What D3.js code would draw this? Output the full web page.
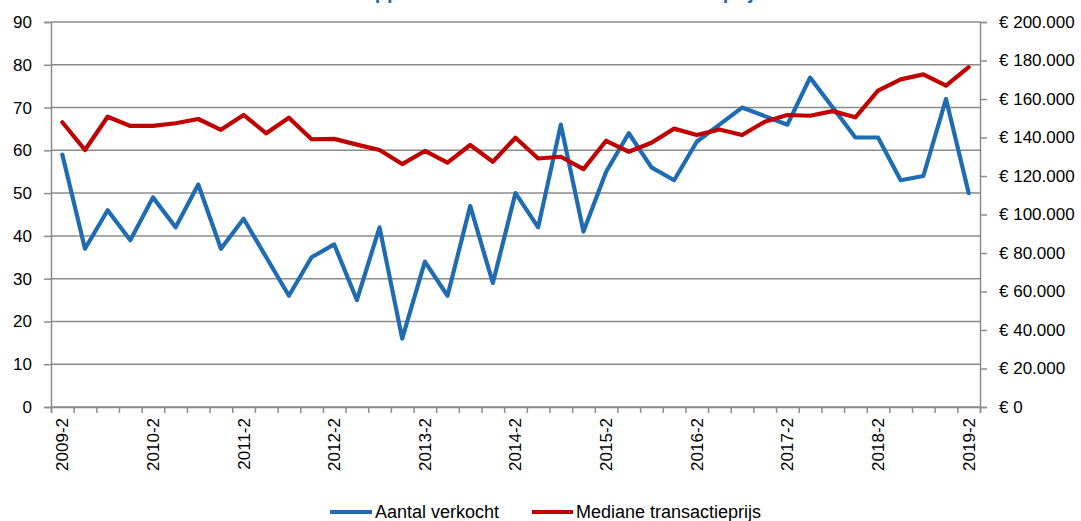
<!DOCTYPE html>
<html>
<head>
<meta charset="utf-8">
<script src="https://cdn.jsdelivr.net/npm/d3@7"></script>
<style>
  html, body { margin: 0; padding: 0; background: #ffffff; }
  svg { display: block; }
  text { font-family: "Liberation Sans", Arial, sans-serif; fill: #000; }
</style>
</head>
<body>
<svg id="chart" width="1081" height="521"></svg>
<script>
const categories = [
  "2009-2","2009-3","2009-4","2010-1","2010-2","2010-3","2010-4","2011-1","2011-2","2011-3","2011-4",
  "2012-1","2012-2","2012-3","2012-4","2013-1","2013-2","2013-3","2013-4","2014-1","2014-2","2014-3",
  "2014-4","2015-1","2015-2","2015-3","2015-4","2016-1","2016-2","2016-3","2016-4","2017-1","2017-2",
  "2017-3","2017-4","2018-1","2018-2","2018-3","2018-4","2019-1","2019-2"
];
const aantalVerkocht = [
  59, 37, 46, 39, 49, 42, 52, 37, 44, 35, 26,
  35, 38, 25, 42, 16, 34, 26, 47, 29, 50, 42,
  66, 41, 55, 64, 56, 53, 62, 66, 70, 68, 66,
  77, 70, 63, 63, 53, 54, 72, 50
];
const medianePrijs = [
  147900, 133500, 150800, 146000, 146000, 147400, 149600, 144000, 151700, 142200, 150300,
  139100, 139300, 136300, 133500, 126200, 133000, 126900, 136100, 127400, 139900, 129100,
  130000, 123600, 138300, 132600, 137300, 144600, 141300, 144200, 141300, 148200, 151700,
  151300, 153700, 150500, 164300, 170200, 172800, 166900, 176500
];
const leftTicks = [0, 10, 20, 30, 40, 50, 60, 70, 80, 90];
const rightTicks = [0, 20000, 40000, 60000, 80000, 100000, 120000, 140000, 160000, 180000, 200000];
const seriesNames = ["Aantal verkocht", "Mediane transactieprijs"];
const titleText = "Aantal verkochte appartementen en mediane transactieprijs";

const BLUE = "#1f6cb3", RED = "#c00000", GRID = "#8c8c8c";
const svg = d3.select("#chart");
const L = 51, R = 980, T = 22, B = 407;

const x = d3.scaleLinear().domain([0, categories.length]).range([L, R]);
const yL = d3.scaleLinear().domain([0, 90]).range([B, T]);
const yR = d3.scaleLinear().domain([0, 200000]).range([B, T]);

const nl = d3.formatLocale({decimal: ",", thousands: ".", grouping: [3], currency: ["€ ", ""]});
const eur = v => "€ " + nl.format(",.0f")(v);

// title (cut off at top)
svg.append("text").attr("x", 765).attr("y", -1).attr("text-anchor", "end")
  .attr("font-size", 20).attr("font-weight", "bold").style("fill", BLUE).text(titleText);

// gridlines
svg.append("g").selectAll("line").data(leftTicks).join("line")
  .attr("x1", L).attr("x2", R).attr("y1", d => yL(d)).attr("y2", d => yL(d))
  .attr("stroke", GRID).attr("stroke-width", 1.5);

// left axis
const gL = svg.append("g").attr("transform", `translate(${L},0)`)
  .call(d3.axisLeft(yL).tickValues(leftTicks).tickSize(7).tickPadding(12).tickFormat(d3.format("d")));
gL.select(".domain").attr("stroke", GRID).attr("stroke-width", 1.5);
gL.selectAll(".tick line").attr("stroke", GRID).attr("stroke-width", 1.5);
gL.selectAll(".tick text").attr("font-size", 17).attr("font-family", "Liberation Sans, Arial, sans-serif").style("fill", "#000");

// right axis
const gR = svg.append("g").attr("transform", `translate(${R},0)`)
  .call(d3.axisRight(yR).tickValues(rightTicks).tickSize(7).tickPadding(12).tickFormat(eur));
gR.select(".domain").attr("stroke", GRID).attr("stroke-width", 1.5);
gR.selectAll(".tick line").attr("stroke", GRID).attr("stroke-width", 1.5);
gR.selectAll(".tick text").attr("font-size", 17).attr("font-family", "Liberation Sans, Arial, sans-serif").style("fill", "#000");

// bottom axis with ticks at category boundaries
const gB = svg.append("g").attr("transform", `translate(0,${B})`)
  .call(d3.axisBottom(x).tickValues(d3.range(0, categories.length + 1)).tickSize(6).tickFormat(""));
gB.select(".domain").attr("stroke", GRID).attr("stroke-width", 1.5);
gB.selectAll(".tick line").attr("stroke", GRID).attr("stroke-width", 1.5);

// x labels every 4th category, rotated
const labelIdx = categories.map((c, i) => i).filter(i => i % 4 === 0);
svg.append("g").selectAll("text").data(labelIdx).join("text")
  .attr("transform", i => `translate(${x(i + 0.5)},${418}) rotate(-90)`)
  .attr("text-anchor", "end").attr("dy", "0.35em")
  .attr("font-size", 17).text(i => categories[i]);

// lines
const lineL = d3.line().x((d, i) => x(i + 0.5)).y(d => yL(d));
const lineR = d3.line().x((d, i) => x(i + 0.5)).y(d => yR(d));
svg.append("path").datum(aantalVerkocht).attr("d", lineL)
  .attr("fill", "none").attr("stroke", BLUE).attr("stroke-width", 4.2)
  .attr("stroke-linejoin", "round").attr("stroke-linecap", "round");
svg.append("path").datum(medianePrijs).attr("d", lineR)
  .attr("fill", "none").attr("stroke", RED).attr("stroke-width", 4.2)
  .attr("stroke-linejoin", "round").attr("stroke-linecap", "round");

// legend
const legend = [
  {name: seriesNames[0], color: BLUE, x0: 330, x1: 372, tx: 375},
  {name: seriesNames[1], color: RED, x0: 532, x1: 573, tx: 576}
];
const lg = svg.append("g").selectAll("g").data(legend).join("g");
lg.append("line").attr("x1", d => d.x0).attr("x2", d => d.x1).attr("y1", 512).attr("y2", 512)
  .attr("stroke", d => d.color).attr("stroke-width", 4.2);
lg.append("text").attr("x", d => d.tx).attr("y", 512).attr("dy", "0.35em")
  .attr("font-size", 18).text(d => d.name);
</script>
</body>
</html>
